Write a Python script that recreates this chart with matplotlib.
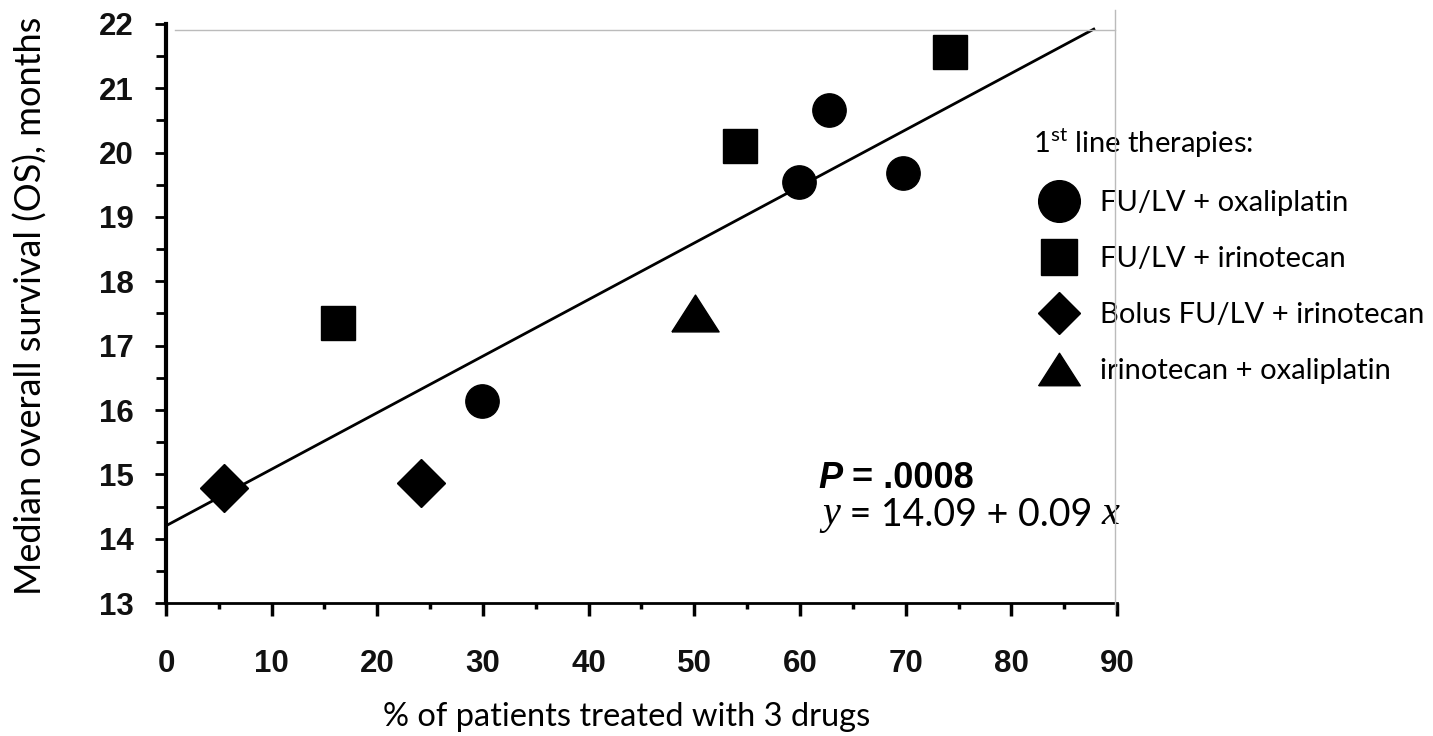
import numpy as np
import matplotlib.pyplot as plt
from matplotlib.lines import Line2D
from matplotlib.ticker import MultipleLocator

plt.rcParams['mathtext.fontset'] = 'custom'
plt.rcParams['mathtext.rm'] = 'Lato'

# data
oxali_x = [29.9, 59.9, 62.7, 69.7]
oxali_y = [16.14, 19.55, 20.66, 19.68]
irino_x = [16.3, 54.3, 74.2]
irino_y = [17.36, 20.10, 21.57]
bolus_x = [5.5, 24.1]
bolus_y = [14.78, 14.87]
iriox_x = [50.1]
iriox_y = [17.50]

fit_x = [0, 87.8]
fit_y = [14.2, 21.92]

labels = ['FU/LV + oxaliplatin', 'FU/LV + irinotecan',
          'Bolus FU/LV + irinotecan', 'irinotecan + oxaliplatin']

fig = plt.figure(figsize=(14.33, 7.36), dpi=100)
ax = fig.add_axes([0.1158, 0.1807, 0.7795 - 0.1158, 0.9674 - 0.1807])

ax.plot(fit_x, fit_y, color='black', lw=2.0, zorder=2)

tri = [(-1, -0.78), (1, -0.78), (0, 0.78), (-1, -0.78)]
h1, = ax.plot(oxali_x, oxali_y, 'o', ms=24, color='black', ls='none', zorder=3)
h2, = ax.plot(irino_x, irino_y, 's', ms=24, color='black', ls='none', zorder=3)
h3, = ax.plot(bolus_x, bolus_y, 'D', ms=24, color='black', ls='none', zorder=3)
h4, = ax.plot(iriox_x, iriox_y, marker=tri, ms=34, color='black', ls='none', zorder=3)

ax.set_xlim(0, 90)
ax.set_ylim(13, 22)
ax.xaxis.set_major_locator(MultipleLocator(10))
ax.xaxis.set_minor_locator(MultipleLocator(5))
ax.yaxis.set_major_locator(MultipleLocator(1))
ax.yaxis.set_minor_locator(MultipleLocator(0.5))

for s in ['top', 'right']:
    ax.spines[s].set_visible(False)
ax.spines['left'].set_linewidth(3)
ax.spines['bottom'].set_linewidth(2)

ax.tick_params(axis='x', which='major', direction='out', length=9, width=2.5, pad=24)
ax.tick_params(axis='x', which='minor', direction='out', length=4, width=2.5)
ax.tick_params(axis='y', which='major', direction='out', length=8, width=2, pad=15)
ax.tick_params(axis='y', which='minor', direction='out', length=7, width=2)
for t in ax.get_xticklabels() + ax.get_yticklabels():
    t.set_fontfamily('Liberation Sans')
    t.set_fontweight('bold')
    t.set_fontsize(22.5)
    t.set_color('#111111')

fig.text(0.021, 0.584, 'Median overall survival (OS), months', rotation=90,
         ha='center', va='center', fontsize=26, family='Lato')
fig.text(0.437, 0.026, '% of patients treated with 3 drugs',
         ha='center', va='center', fontsize=23.5, family='Lato')

# regression annotation
p1 = fig.text(818 / 1433, 1 - 488 / 736, 'P', fontsize=26, family='Liberation Sans',
              weight='bold', style='italic', ha='left', va='baseline')
ax.annotate(' = .0008', xy=(1, 0), xycoords=p1, fontsize=26, family='Liberation Sans',
            weight='bold', ha='left', va='bottom')
q1 = fig.text(822 / 1433, 1 - 524 / 736, 'y', fontsize=29, family='Liberation Serif',
              style='italic', ha='left', va='baseline')
q2 = ax.annotate(' = 14.09 + 0.09 ', xy=(1, 0), xycoords=q1, fontsize=27, family='Lato',
                 ha='left', va='bottom')
ax.annotate('x', xy=(1, 0), xycoords=q2, fontsize=29, family='Liberation Serif',
            style='italic', ha='left', va='bottom')

leg = ax.legend([h1, h2, h3, h4], labels, title='1$^{\\rm st}$ line therapies:',
                loc='upper left', bbox_to_anchor=(1033 / 1433, 1 - 126 / 736),
                bbox_transform=fig.transFigure, frameon=False,
                prop={'family': 'Lato', 'size': 21}, title_fontproperties={'family': 'Lato', 'size': 21},
                markerscale=1, handlelength=1.8, handletextpad=0.5,
                labelspacing=1.03, borderpad=0, borderaxespad=0, alignment='left')
for hd, sz in zip(leg.legend_handles, [30, 26, 21, 30]):
    hd.set_markersize(sz)

# faint frame lines from the scanned original
fig.add_artist(Line2D([175 / 1433, 1115 / 1433], [1 - 30 / 736, 1 - 30 / 736],
                      color='#bbbbbb', lw=1))
fig.add_artist(Line2D([1115 / 1433, 1115 / 1433], [1 - 10 / 736, 1 - 610 / 736],
                      color='#bbbbbb', lw=1))

fig.savefig('out.png', dpi=100)
